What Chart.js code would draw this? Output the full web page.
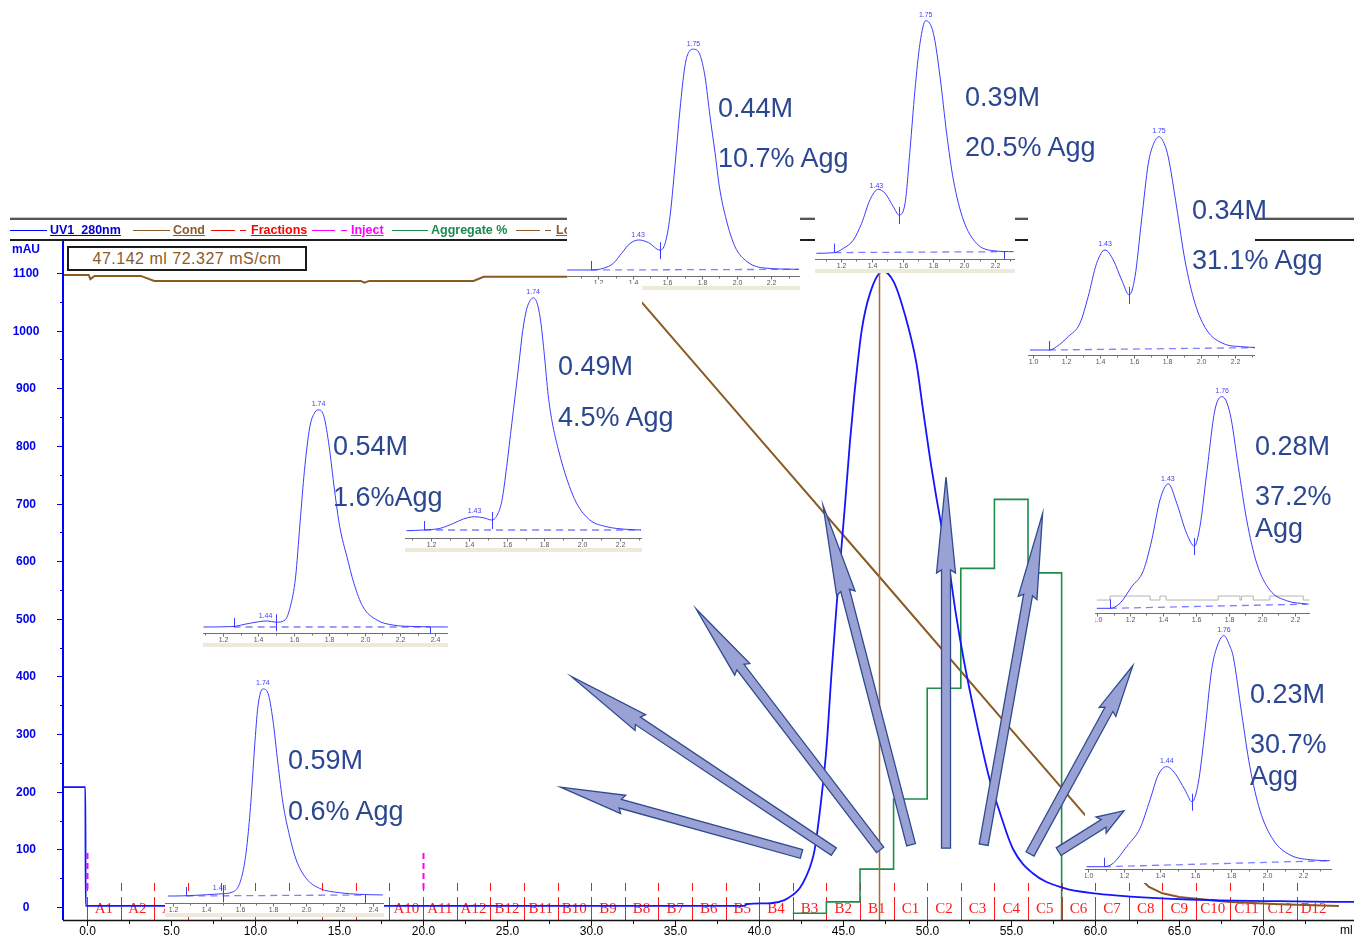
<!DOCTYPE html>
<html lang="en">
<head>
<meta charset="utf-8">
<title>UV1_280nm gradient run with SEC analysis of fractions</title>
<script src="https://cdn.jsdelivr.net/npm/chart.js@4.4.1/dist/chart.umd.min.js"></script>
<style>
  html, body { margin:0; padding:0; background:#fff; }
  #stage { position:relative; width:1354px; height:938px; overflow:hidden; font-family:"Liberation Sans", Arial, sans-serif; }
  #stage canvas { position:absolute; }
  .band { position:absolute; left:10px; top:218px; width:1344px; height:19px; border-top:2px solid #555; border-bottom:2px solid #1e1e1e; background:#fff; box-shadow:0 -1px 0 #cfc8b8; }
  .lgline { position:absolute; height:0; top:230px; border-top:1.6px solid; }
  .lgtext { position:absolute; top:223px; font:bold 12.5px "Liberation Sans", Arial, sans-serif; line-height:15px; white-space:nowrap; text-decoration:underline; }
  .cursor { position:absolute; left:67px; top:246px; width:236px; height:21px; border:2px solid #1a1a1a; background:#fff; color:#8b5a2b; font:16px "Liberation Sans", Arial, sans-serif; letter-spacing:0.5px; line-height:21px; text-align:center; white-space:nowrap; }
  .big { position:absolute; font:27px "Liberation Sans", Arial, sans-serif; line-height:27px; color:#2b4791; white-space:nowrap; }
</style>
</head>
<body>
<div id="stage">
  <canvas id="main" width="1354" height="938" style="left:0;top:0"></canvas>

  <div class="band"></div>
  <div class="lgline" style="left:10px;width:37px;border-color:#0000ff"></div>
  <div class="lgtext" style="left:50px;color:#0000cc">UV1_280nm</div>
  <div class="lgline" style="left:133px;width:37px;border-color:#8b5a2b"></div>
  <div class="lgtext" style="left:173px;color:#8b5a2b">Cond</div>
  <div class="lgline" style="left:211px;width:24px;border-color:#ff0000"></div>
  <div class="lgline" style="left:240px;width:6px;border-color:#ff0000"></div>
  <div class="lgtext" style="left:251px;color:#ff0000">Fractions</div>
  <div class="lgline" style="left:312px;width:23px;border-color:#ff00ff"></div>
  <div class="lgline" style="left:341px;width:6px;border-color:#ff00ff"></div>
  <div class="lgtext" style="left:351px;color:#ff00ff">Inject</div>
  <div class="lgline" style="left:392px;width:36px;border-color:#1a8a4a"></div>
  <div class="lgtext" style="left:431px;color:#1a8a4a;text-decoration:none">Aggregate %</div>
  <div class="lgline" style="left:516px;width:24px;border-color:#8b5a2b"></div>
  <div class="lgline" style="left:545px;width:6px;border-color:#8b5a2b"></div>
  <div class="lgtext" style="left:556px;color:#8b5a2b">Logbook</div>

  <div class="cursor" id="cursorBox"></div>

  <canvas id="arrows" width="1354" height="938" style="left:0;top:0;z-index:5;pointer-events:none"></canvas>
</div>

<script>
// ---------------- preparative run (ml / mAU / mS/cm) ----------------
const uvVolume = [-1.43, -0.10, -0.08, 10, 20, 30, 39.1, 39.3, 40.7, 41.5, 42.0, 42.4, 42.8, 43.1, 43.3,
  43.7, 44.0, 44.3, 44.6, 44.9, 45.1, 45.4, 45.65, 46.1, 46.6, 47.37, 48.0, 48.66, 49.36, 49.75,
  50.25, 50.84, 51.2, 51.7, 52.2, 52.9, 53.7, 54.3, 55.1, 56.3, 58.1, 60.1, 62.1, 65.6, 68.2, 71.0, 74.4, 75.4];
const uvAbs = [208, 208, 2, 2, 2, 2, 2, 5, 6.5, 12, 21, 32, 53, 76, 99,
  188, 274, 403, 520, 625, 695, 806, 885, 1000, 1065, 1103, 1085, 1029, 943, 863,
  763, 662, 610, 510, 425, 325, 223, 166, 101, 58, 33, 23, 18, 13, 11, 10, 9, 9];

const condVolume = [-1.43, 0.1, 0.2, 0.45, 3.2, 4.0, 16.3, 16.5, 16.8, 23.0, 23.6, 31.7, 32.9, 40.0,
  47.142, 55.0, 59.4, 62.6, 63.2, 64.0, 65.0, 66.0, 68.0, 71.0, 74.5];
const condValue = [138.3, 138.3, 137.4, 138.1, 138.1, 137.0, 137.0, 136.6, 137.0, 137.0, 137.9, 137.9, 132.8, 102.6,
  72.327, 38.8, 20.1, 6.5, 4.4, 3.0, 2.2, 1.8, 1.1, 0.6, 0.2];

const fractionNames = ['A1','A2','A3','A4','A5','A6','A7','A8','A9','A10','A11','A12',
  'B12','B11','B10','B9','B8','B7','B6','B5','B4','B3','B2','B1',
  'C1','C2','C3','C4','C5','C6','C7','C8','C9','C10','C11','C12','D12'];
const fractionBounds = [0,2,4,6,8,10,12,14,16,18,20,22,24,26,28,30,32,34,36,38,40,42,44,46,48,50,
  52,54,56,58,60,62,64,66,68,70,72,74];

const aggFractions = ['B3','B2','B1','C1','C2','C3','C4','C5'];
const aggPercent = [0.6, 1.6, 4.5, 10.7, 20.5, 31.1, 37.2, 30.7];

const injectVolume = [0, 20];
const cursorVolume = 47.142;
const cursorCond = 72.327;

const yTickValues = [0,100,200,300,400,500,600,700,800,900,1000,1100];
const xTickValues = [0,5,10,15,20,25,30,35,40,45,50,55,60,65,70];
const xTickLabels = ['0.0','5.0','10.0','15.0','20.0','25.0','30.0','35.0','40.0','45.0','50.0','55.0','60.0','65.0','70.0'];

// fraction pointers: tail and tip in (ml, mAU)
const arrowTail = [[42.52,92],[44.44,96],[47.20,99],[49.04,108],[51.12,102],[53.36,108],[56.12,92],[57.82,96]];
const arrowTip  = [[28.18,208],[28.82,400],[36.25,517],[43.80,697],[51.12,746],[56.87,683],[62.24,419],[61.71,167]];

// ---------------- SEC analysis of selected fractions (min / relative absorbance) ----------------
const sec059Time = [1.17,1.21,1.30,1.40,1.48,1.56,1.60,1.63,1.65,1.67,1.69,1.71,1.74,1.77,1.80,1.83,1.86,1.90,1.94,2.00,2.08,2.20,2.32,2.46];
const sec059Abs  = [0,0,0.2,0.6,1.0,2,6,16,29,48,72,91.5,100,98,85,64,45,29,17.4,8.5,3.7,1.6,0.8,0.5];
const sec059BaseTime = [1.28, 2.35], sec059BaseAbs = [0, 0.5];
const sec059Cuts = [1.28, 1.50, 2.35];
const sec059PeakRT = [1.48, 1.74];

const sec054Time = [1.09,1.25,1.35,1.45,1.50,1.55,1.58,1.61,1.635,1.66,1.69,1.72,1.74,1.77,1.80,1.83,1.86,1.90,1.94,1.99,2.07,2.16,2.29,2.47];
const sec054Abs  = [0,0.2,1.7,2.8,2.2,3.2,9.3,23,47.8,72,92,99,100,97,83,63,46,32.4,20,9.4,3.2,0.9,0.2,0];
const sec054BaseTime = [1.26, 2.37], sec054BaseAbs = [0, 0];
const sec054Cuts = [1.26, 1.50, 2.37];
const sec054PeakRT = [1.44, 1.74];

const sec049Time = [1.07,1.163,1.247,1.32,1.37,1.43,1.48,1.52,1.55,1.575,1.60,1.627,1.645,1.665,1.685,1.705,1.725,1.74,1.76,1.78,1.80,1.82,1.84,1.874,1.92,1.97,2.04,2.13,2.23,2.31];
const sec049Abs  = [0,0.3,1,3.2,5,6,5.5,4.6,6.7,13,27.5,46,58,72,86,95,99,100,98,90,75,58,47,34.7,21.8,11.8,4.6,1.7,0.6,0.3];
const sec049BaseTime = [1.163, 2.31], sec049BaseAbs = [0.3, 0.3];
const sec049Cuts = [1.163, 1.52, null];
const sec049PeakRT = [1.43, 1.74];

const sec044Time = [1.02,1.158,1.23,1.287,1.335,1.383,1.435,1.49,1.557,1.586,1.614,1.643,1.672,1.70,1.725,1.75,1.788,1.817,1.846,1.875,1.90,1.94,1.99,2.06,2.15,2.36];
const sec044Abs  = [0,0,0.8,3,7.6,12,13.6,12.4,9,12,24,47,72.5,92,99,100,97.4,87.5,69.5,53,37.7,22.7,10.6,3.8,1,0.3];
const sec044BaseTime = [1.158, 2.36], sec044BaseAbs = [0, 0.3];
const sec044Cuts = [1.158, 1.557, null];
const sec044PeakRT = [1.43, 1.75];

const sec039Time = [1.04,1.157,1.215,1.28,1.334,1.388,1.442,1.486,1.54,1.577,1.616,1.648,1.68,1.713,1.75,1.80,1.843,1.886,1.93,1.995,2.08,2.19,2.32];
const sec039Abs  = [0,0.3,2.1,5.7,12.9,23,27.5,25.8,20,16.5,21.5,44.3,70,90.3,100,94.6,76,51.6,31.5,14.3,4.3,1.1,0.7];
const sec039BaseTime = [1.157, 2.26], sec039BaseAbs = [0.3, 0.7];
const sec039Cuts = [1.157, 1.577, 2.26];
const sec039PeakRT = [1.43, 1.75];

const sec034Time = [0.985,1.097,1.143,1.212,1.281,1.33,1.38,1.43,1.479,1.529,1.574,1.608,1.647,1.687,1.72,1.75,1.78,1.805,1.855,1.904,1.964,2.033,2.13,2.25,2.32];
const sec034Abs  = [0,0,1.6,6.3,12.5,25,40.6,46.9,42.2,32.8,25.8,34.4,61,87.5,97,100,97,90.6,67,42.2,21.9,9.4,3.1,1.5,1.2];
const sec034BaseTime = [1.097, 2.32], sec034BaseAbs = [0, 1.1];
const sec034Cuts = [1.097, 1.574, null];
const sec034PeakRT = [1.43, 1.75];

const sec028Time = [0.998,1.078,1.139,1.21,1.281,1.332,1.382,1.433,1.484,1.544,1.591,1.625,1.666,1.716,1.76,1.808,1.858,1.909,1.97,2.05,2.152,2.274];
const sec028Abs  = [0,0,2.4,10.2,17.8,32.3,51.2,58.8,49.6,35.4,29.4,38.6,63.8,93.7,100,92,67,41.8,21.3,8.6,3.6,2];
const sec028BaseTime = [1.078, 2.29], sec028BaseAbs = [0, 2.0];
const sec028Cuts = [1.078, 1.591, null];
const sec028PeakRT = [1.43, 1.76];
const sec028AuxTime = [0.998,1.078,1.322,1.382,1.419,1.736,1.868,1.878,1.949,2.05,2.253,2.29];
const sec028AuxLevel = [3.9,5.8,3.9,5.8,3.9,5.8,3.9,5.8,3.9,5.8,3.9,3.9];

const sec023Time = [0.991,1.088,1.14,1.215,1.29,1.346,1.392,1.439,1.486,1.542,1.582,1.616,1.654,1.691,1.725,1.76,1.79,1.812,1.859,1.905,1.961,2.036,2.13,2.26,2.353];
const sec023Abs  = [0,0,1.5,8.7,16.6,28.9,39.7,43.3,40.4,33.2,28.1,36.1,59.2,85.2,96,100,96,90.9,66.4,43.3,24.5,11.6,5.1,2.9,2.6];
const sec023BaseTime = [1.088, 2.353], sec023BaseAbs = [0, 2.6];
const sec023Cuts = [1.088, 1.582, null];
const sec023PeakRT = [1.44, 1.76];

// salt concentration / aggregate annotations (text, left px, centre px)
const annotations = [
  ['0.59M',288,760],['0.6% Agg',288,811],
  ['0.54M',333,446],['1.6%Agg',333,497],
  ['0.49M',558,366],['4.5% Agg',558,417],
  ['0.44M',718,108],['10.7% Agg',718,158],
  ['0.39M',965,97],['20.5% Agg',965,147],
  ['0.34M',1192,210],['31.1% Agg',1192,260],
  ['0.28M',1255,446],['37.2%',1255,496],['Agg',1255,528],
  ['0.23M',1250,694],['30.7%',1250,744],['Agg',1250,776]
];

// ---------------------------------------------------------------------------------------------
const stage = document.getElementById('stage');
const arrowCanvas = document.getElementById('arrows');
document.getElementById('cursorBox').textContent =
  cursorVolume.toFixed(3) + ' ml ' + cursorCond.toFixed(3) + ' mS/cm';

const pts = (xs, ys) => xs.map((v, i) => ({x: v, y: ys[i]}));

function interp(xs, ys, t) {
  if (t <= xs[0]) return ys[0];
  for (let i = 1; i < xs.length; i++) {
    if (t <= xs[i]) {
      const f = (t - xs[i-1]) / (xs[i] - xs[i-1]);
      return ys[i-1] + f * (ys[i] - ys[i-1]);
    }
  }
  return ys[ys.length - 1];
}

function seg(ctx, x0, y0, x1, y1) {
  ctx.beginPath(); ctx.moveTo(x0, y0); ctx.lineTo(x1, y1); ctx.stroke();
}

function drawArrow(ctx, x0, y0, x1, y1, headLen, shaftW, headW) {
  const dx = x1 - x0, dy = y1 - y0, L = Math.hypot(dx, dy);
  const ux = dx / L, uy = dy / L, nx = -uy, ny = ux;
  const bx = x1 - ux * headLen, by = y1 - uy * headLen;
  const s = shaftW / 2, h = headW / 2;
  ctx.beginPath();
  ctx.moveTo(x0 + nx * s, y0 + ny * s);
  ctx.lineTo(bx + nx * s, by + ny * s);
  ctx.lineTo(bx + nx * h - ux * 3, by + ny * h - uy * 3);
  ctx.lineTo(x1, y1);
  ctx.lineTo(bx - nx * h - ux * 3, by - ny * h - uy * 3);
  ctx.lineTo(bx - nx * s, by - ny * s);
  ctx.lineTo(x0 - nx * s, y0 - ny * s);
  ctx.closePath();
  ctx.fill(); ctx.stroke();
}

// aggregate % per fraction: value holds across the fraction, returns to zero after the last one
const aggPoints = aggFractions.map((f, i) => ({x: fractionBounds[fractionNames.indexOf(f)], y: aggPercent[i]}));
const lastAgg = fractionNames.indexOf(aggFractions[aggFractions.length - 1]);
aggPoints.push({x: fractionBounds[lastAgg + 1], y: aggPercent[aggPercent.length - 1]});
aggPoints.push({x: fractionBounds[lastAgg + 1], y: 0});

const condPoints = pts(condVolume, condValue);

const mainDecor = {
  id: 'mainDecor',
  beforeDatasetsDraw(chart) {
    const {ctx, chartArea: ca, scales: {x}} = chart;
    ctx.save();
    ctx.strokeStyle = '#ff1a1a'; ctx.fillStyle = '#ff1a1a'; ctx.lineWidth = 1;
    ctx.font = '15px "Liberation Serif", "Times New Roman", serif';
    ctx.textAlign = 'center'; ctx.textBaseline = 'alphabetic';
    fractionNames.forEach((name, i) => {
      const px = Math.round(x.getPixelForValue(fractionBounds[i])) + 0.5;
      seg(ctx, px, ca.bottom - 37, px, ca.bottom - 29);
      seg(ctx, px, ca.bottom - 23, px, ca.bottom);
      const mid = x.getPixelForValue((fractionBounds[i] + fractionBounds[i + 1]) / 2);
      ctx.fillText(name, mid, ca.bottom - 7);
    });
    ctx.strokeStyle = '#ff00ff'; ctx.lineWidth = 2; ctx.setLineDash([6, 4]);
    injectVolume.forEach(v => {
      const px = Math.round(x.getPixelForValue(v)) + 0.5;
      seg(ctx, px, ca.bottom - 67, px, ca.bottom - 27);
    });
    ctx.restore();
  },
  afterDatasetsDraw(chart) {
    const {ctx, chartArea: ca, scales: {x, y}} = chart;
    ctx.save();
    // run cursor
    const cx = Math.round(x.getPixelForValue(cursorVolume)) + 0.5;
    ctx.strokeStyle = '#a46a30'; ctx.lineWidth = 1.5;
    seg(ctx, cx, ca.top, cx, ca.bottom);

    // absorbance axis
    ctx.strokeStyle = '#0000ff'; ctx.lineWidth = 2;
    seg(ctx, ca.left, ca.top - 4, ca.left, ca.bottom);
    ctx.lineWidth = 1;
    ctx.fillStyle = '#0000ee';
    ctx.font = 'bold 12px "Liberation Sans", Arial, sans-serif';
    ctx.textAlign = 'center'; ctx.textBaseline = 'middle';
    yTickValues.forEach(v => {
      const py = Math.round(y.getPixelForValue(v)) + 0.5;
      seg(ctx, ca.left - 6, py, ca.left, py);
      const pm = Math.round(y.getPixelForValue(v + 50)) + 0.5;
      if (v + 50 < y.max) seg(ctx, ca.left - 3, pm, ca.left, pm);
      ctx.fillText(String(v), 26, py);
    });
    ctx.fillText('mAU', 26, ca.top + 5);

    // volume axis
    ctx.strokeStyle = '#111'; ctx.lineWidth = 1.5;
    seg(ctx, ca.left, ca.bottom + 0.5, ca.right, ca.bottom + 0.5);
    ctx.lineWidth = 1;
    ctx.fillStyle = '#000';
    ctx.font = '12px "Liberation Sans", Arial, sans-serif';
    xTickValues.forEach((v, i) => {
      const px = Math.round(x.getPixelForValue(v)) + 0.5;
      seg(ctx, px, ca.bottom, px, ca.bottom + 6);
      const pm = Math.round(x.getPixelForValue(v + 2.5)) + 0.5;
      seg(ctx, pm, ca.bottom, pm, ca.bottom + 4);
      ctx.fillText(xTickLabels[i], px, ca.bottom + 12);
    });
    ctx.textAlign = 'left';
    ctx.fillText('ml', 1340, ca.bottom + 11);
    ctx.restore();
  },
  afterDraw(chart) {
    const {scales: {x, y}} = chart;
    const ctx = arrowCanvas.getContext('2d');
    ctx.clearRect(0, 0, arrowCanvas.width, arrowCanvas.height);
    ctx.save();
    ctx.fillStyle = '#99a1d5'; ctx.strokeStyle = '#2f4b8e'; ctx.lineWidth = 1.3; ctx.lineJoin = 'miter';
    const heads = [62, 80, 73, 88, 93, 83, 50, 24];
    arrowTail.forEach((t, i) => {
      const x0 = x.getPixelForValue(t[0]), y0 = y.getPixelForValue(t[1]);
      const x1 = x.getPixelForValue(arrowTip[i][0]), y1 = y.getPixelForValue(arrowTip[i][1]);
      drawArrow(ctx, x0, y0, x1, y1, heads[i], 9, 19);
    });
    ctx.restore();
  }
};

new Chart(document.getElementById('main'), {
  type: 'line',
  data: {
    datasets: [
      {label: 'UV1_280nm', data: pts(uvVolume, uvAbs), yAxisID: 'y', borderColor: '#1414ff', borderWidth: 1.8,
       pointRadius: 0, cubicInterpolationMode: 'monotone'},
      {label: 'Aggregate %', data: aggPoints, yAxisID: 'yAgg', borderColor: '#1f8c4c', borderWidth: 1.6,
       pointRadius: 0, stepped: 'before'},
      {label: 'Cond', data: condPoints, yAxisID: 'yCond', borderColor: '#8b5a23', borderWidth: 2,
       pointRadius: 0, tension: 0}
    ]
  },
  options: {
    responsive: false, animation: false, devicePixelRatio: 1, events: [],
    layout: {padding: {left: 63, top: 245, right: 0, bottom: 18}, autoPadding: false},
    plugins: {legend: {display: false}, tooltip: {enabled: false}},
    scales: {
      x: {type: 'linear', min: -1.43, max: 75.4, display: false},
      y: {type: 'linear', min: -22.6, max: 1148.5, display: false},
      yCond: {type: 'linear', min: -2.84, max: 144.86, display: false},
      yAgg: {type: 'linear', min: 0, max: 59.7, display: false}
    }
  },
  plugins: [mainDecor]
});

// ---------------- SEC inset panels ----------------
const insetPanels = [
  {time: sec044Time, abs: sec044Abs, bt: sec044BaseTime, bv: sec044BaseAbs, cuts: sec044Cuts, peaks: sec044PeakRT,
   left: 567, top: 0, w: 233, h: 290, xr: [1.019, 2.366], vr: [-2.72, 122.3], opaque: true, beige: true},
  {time: sec039Time, abs: sec039Abs, bt: sec039BaseTime, bv: sec039BaseAbs, cuts: sec039Cuts, peaks: sec039PeakRT,
   left: 815, top: 0, w: 200, h: 273, xr: [1.031, 2.33], vr: [-2.45, 108.9], opaque: true, beige: true},
  {time: sec034Time, abs: sec034Abs, bt: sec034BaseTime, bv: sec034BaseAbs, cuts: sec034Cuts, peaks: sec034PeakRT,
   left: 1028, top: 125, w: 227, h: 244, xr: [0.973, 2.32], vr: [-2.34, 105.5], opaque: true, beige: false},
  {time: sec028Time, abs: sec028Abs, bt: sec028BaseTime, bv: sec028BaseAbs, cuts: sec028Cuts, peaks: sec028PeakRT,
   aux: [sec028AuxTime, sec028AuxLevel],
   left: 1095, top: 385, w: 215, h: 242, xr: [0.987, 2.294], vr: [-2.22, 105.5], opaque: true, beige: false},
  {time: sec023Time, abs: sec023Abs, bt: sec023BaseTime, bv: sec023BaseAbs, cuts: sec023Cuts, peaks: sec023PeakRT,
   left: 1085, top: 622, w: 247, h: 261, xr: [0.982, 2.365], vr: [-1.0, 105.9], opaque: true, beige: false},
  {time: sec059Time, abs: sec059Abs, bt: sec059BaseTime, bv: sec059BaseAbs, cuts: sec059Cuts, peaks: sec059PeakRT,
   left: 165, top: 678, w: 219, h: 239, xr: [1.152, 2.467], vr: [-3.38, 105.3], opaque: false, beige: true},
  {time: sec054Time, abs: sec054Abs, bt: sec054BaseTime, bv: sec054BaseAbs, cuts: sec054Cuts, peaks: sec054PeakRT,
   left: 203, top: 398, w: 245, h: 249, xr: [1.087, 2.471], vr: [-2.76, 105.5], opaque: true, beige: true},
  {time: sec049Time, abs: sec049Abs, bt: sec049BaseTime, bv: sec049BaseAbs, cuts: sec049Cuts, peaks: sec049PeakRT,
   left: 405, top: 284, w: 237, h: 268, xr: [1.062, 2.316], vr: [-3.14, 106.0], opaque: true, beige: true}
];

function insetDecor(p) {
  return {
    id: 'insetDecor',
    beforeDraw(chart) {
      const {ctx, width, height, chartArea: ca} = chart;
      ctx.save();
      ctx.fillStyle = '#fff';
      if (p.opaque) ctx.fillRect(0, 0, width, height);
      else ctx.fillRect(0, ca.bottom - 9, width, height - ca.bottom + 9);
      if (p.beige) { ctx.fillStyle = '#eeeadb'; ctx.fillRect(0, height - 4, width, 4); }
      ctx.restore();
    },
    afterDatasetsDraw(chart) {
      const {ctx, width, chartArea: ca, scales: {x, y}} = chart;
      ctx.save();
      const ay = Math.round(ca.bottom) + 0.5;
      ctx.strokeStyle = '#707070'; ctx.lineWidth = 1;
      seg(ctx, 0, ay, width, ay);
      ctx.fillStyle = '#555';
      ctx.font = '7px "Liberation Sans", Arial, sans-serif';
      ctx.textAlign = 'center'; ctx.textBaseline = 'top';
      for (let k = Math.ceil(x.min * 10); k <= Math.floor(x.max * 10); k++) {
        const px = Math.round(x.getPixelForValue(k / 10)) + 0.5;
        const major = k % 2 === 0;
        seg(ctx, px, ay, px, ay + (major ? 3 : 2));
        if (major) ctx.fillText((k / 10).toFixed(1), px, ay + 3);
      }
      ctx.strokeStyle = '#3c3cff';
      const [s, sp, e] = p.cuts;
      if (s != null) {
        const px = Math.round(x.getPixelForValue(s)) + 0.5, by = y.getPixelForValue(interp(p.bt, p.bv, s));
        seg(ctx, px, by, px, by - 9);
      }
      if (sp != null) {
        const px = Math.round(x.getPixelForValue(sp)) + 0.5, cy = y.getPixelForValue(interp(p.time, p.abs, sp));
        seg(ctx, px, cy - 8, px, cy + 9);
      }
      if (e != null) {
        const px = Math.round(x.getPixelForValue(e)) + 0.5, by = y.getPixelForValue(interp(p.bt, p.bv, e));
        seg(ctx, px, by, px, ay);
      }
      ctx.fillStyle = '#3c3cff'; ctx.textBaseline = 'bottom';
      p.peaks.forEach(rt => {
        const px = x.getPixelForValue(rt), py = y.getPixelForValue(interp(p.time, p.abs, rt));
        ctx.fillText(rt.toFixed(2), px, py - 2);
      });
      ctx.restore();
    }
  };
}

insetPanels.forEach(p => {
  const cv = document.createElement('canvas');
  cv.width = p.w; cv.height = p.h;
  cv.style.left = p.left + 'px'; cv.style.top = p.top + 'px';
  stage.insertBefore(cv, arrowCanvas);
  const datasets = [
    {data: pts(p.time, p.abs), borderColor: '#3c3cff', borderWidth: 1, pointRadius: 0, cubicInterpolationMode: 'monotone'},
    {data: pts(p.bt, p.bv), borderColor: '#7f7fff', borderWidth: 1.3, borderDash: [7, 5], pointRadius: 0}
  ];
  if (p.aux) datasets.push({data: pts(p.aux[0], p.aux[1]), borderColor: '#b4b4b4', borderWidth: 1, pointRadius: 0, stepped: 'before'});
  new Chart(cv, {
    type: 'line',
    data: {datasets},
    options: {
      responsive: false, animation: false, devicePixelRatio: 1, events: [],
      layout: {padding: {left: 0, right: 0, top: 0, bottom: 14}, autoPadding: false},
      plugins: {legend: {display: false}, tooltip: {enabled: false}},
      scales: {
        x: {type: 'linear', min: p.xr[0], max: p.xr[1], display: false},
        y: {type: 'linear', min: p.vr[0], max: p.vr[1], display: false}
      }
    },
    plugins: [insetDecor(p)]
  });
});

// text annotations on top
annotations.forEach(([text, left, mid]) => {
  const d = document.createElement('div');
  d.className = 'big';
  d.style.left = left + 'px';
  d.style.top = (mid - 13) + 'px';
  d.style.zIndex = 6;
  d.textContent = text;
  stage.appendChild(d);
});
</script>
</body>
</html>
